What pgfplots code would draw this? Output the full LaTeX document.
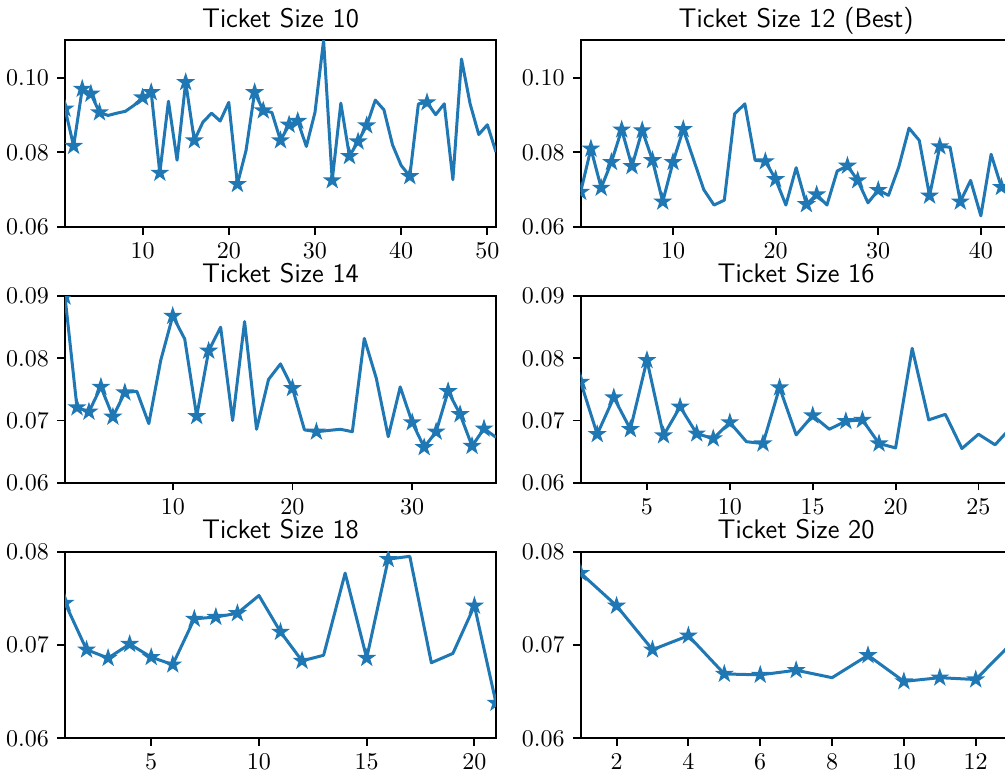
\documentclass[border=0pt]{standalone}
\usepackage{pgfplots}
\pgfplotsset{compat=1.18}
\usepackage{pgfplotstable}

\definecolor{tabblue}{HTML}{1F77B4}

% filled five-pointed star, like matplotlib's '*'
\pgfdeclareplotmark{fstar}{%
  \pgfpathmoveto{\pgfpointpolar{90}{\pgfplotmarksize}}%
  \pgfpathlineto{\pgfpointpolar{126}{0.382*\pgfplotmarksize}}%
  \pgfpathlineto{\pgfpointpolar{162}{\pgfplotmarksize}}%
  \pgfpathlineto{\pgfpointpolar{198}{0.382*\pgfplotmarksize}}%
  \pgfpathlineto{\pgfpointpolar{234}{\pgfplotmarksize}}%
  \pgfpathlineto{\pgfpointpolar{270}{0.382*\pgfplotmarksize}}%
  \pgfpathlineto{\pgfpointpolar{306}{\pgfplotmarksize}}%
  \pgfpathlineto{\pgfpointpolar{342}{0.382*\pgfplotmarksize}}%
  \pgfpathlineto{\pgfpointpolar{18}{\pgfplotmarksize}}%
  \pgfpathlineto{\pgfpointpolar{54}{0.382*\pgfplotmarksize}}%
  \pgfpathclose
  \pgfusepathqfillstroke
}

\pgfplotsset{
  panel/.style={
    scale only axis, width=179.6pt, height=77.8pt,
    anchor=south west,
    axis line style={line width=0.8pt},
    tick align=outside, xtick pos=bottom, ytick pos=left,
    major tick length=3.2pt,
    tick style={black, line width=0.8pt},
    scaled y ticks=false,
    yticklabel style={/pgf/number format/fixed,
      /pgf/number format/fixed zerofill,
      /pgf/number format/precision=2},
    every axis title/.style={font=\fontsize{11.2}{13}\selectfont\sffamily,
      at={(0.5,1)}, anchor=base, yshift=5.5pt},
    clip marker paths=true,
  },
  run/.style={color=tabblue, line width=1.25pt, line join=round,
    mark=fstar, mark size=3.2pt,
    mark options={solid, fill=tabblue, line width=0.6pt, line join=miter}},
}

% Ticket Size 10
\pgfplotstableread{
x y
1 0.0917
2 0.0817
3 0.0970
4 0.0957
5 0.0907
6 0.0899
7 0.0905
8 0.0910
9 0.0926
10 0.0947
11 0.0961
12 0.0745
13 0.0937
14 0.0779
15 0.0988
16 0.0832
17 0.0881
18 0.0905
19 0.0884
20 0.0934
21 0.0715
22 0.0805
23 0.0961
24 0.0912
25 0.0907
26 0.0832
27 0.0874
28 0.0884
29 0.0816
30 0.0907
31 0.1100
32 0.0725
33 0.0932
34 0.0790
35 0.0829
36 0.0872
37 0.0940
38 0.0914
39 0.0820
40 0.0765
41 0.0736
42 0.0930
43 0.0934
44 0.0901
45 0.0930
46 0.0727
47 0.1050
48 0.0930
49 0.0848
50 0.0874
51 0.0801
}\tsten

% Ticket Size 12
\pgfplotstableread{
x y
1 0.0694
2 0.0810
3 0.0705
4 0.0774
5 0.0861
6 0.0763
7 0.0859
8 0.0779
9 0.0668
10 0.0774
11 0.0862
12 0.0781
13 0.0700
14 0.0659
15 0.0672
16 0.0903
17 0.0930
18 0.0779
19 0.0776
20 0.0728
21 0.0659
22 0.0759
23 0.0661
24 0.0687
25 0.0659
26 0.0750
27 0.0764
28 0.0725
29 0.0665
30 0.0699
31 0.0685
32 0.0761
33 0.0865
34 0.0832
35 0.0684
36 0.0816
37 0.0814
38 0.0668
39 0.0725
40 0.0630
41 0.0795
42 0.0707
43 0.0700
}\tstwelve

% Ticket Size 14
\pgfplotstableread{
x y
1 0.0899
2 0.0721
3 0.0714
4 0.0754
5 0.0706
6 0.0745
7 0.0747
8 0.0695
9 0.0797
10 0.0868
11 0.0831
12 0.0707
13 0.0812
14 0.0850
15 0.0700
16 0.0859
17 0.0686
18 0.0766
19 0.0791
20 0.0752
21 0.0685
22 0.0682
23 0.0684
24 0.0686
25 0.0682
26 0.0832
27 0.0768
28 0.0674
29 0.0754
30 0.0697
31 0.0657
32 0.0682
33 0.0747
34 0.0710
35 0.0659
36 0.0687
37 0.0673
}\tsfourteen

% Ticket Size 16
\pgfplotstableread{
x y
1 0.0762
2 0.0678
3 0.0737
4 0.0686
5 0.0797
6 0.0676
7 0.0722
8 0.0679
9 0.0671
10 0.0697
11 0.0666
12 0.0663
13 0.0753
14 0.0677
15 0.0708
16 0.0686
17 0.0699
18 0.0701
19 0.0663
20 0.0656
21 0.0816
22 0.0701
23 0.0710
24 0.0655
25 0.0678
26 0.0661
27 0.0690
}\tssixteen

% Ticket Size 18
\pgfplotstableread{
x y
1 0.0745
2 0.0695
3 0.0686
4 0.0701
5 0.0687
6 0.0679
7 0.0728
8 0.0730
9 0.0734
10 0.0753
11 0.0714
12 0.0683
13 0.0689
14 0.0777
15 0.0686
16 0.0792
17 0.0795
18 0.0681
19 0.0691
20 0.0742
21 0.0638
}\tseighteen

% Ticket Size 20
\pgfplotstableread{
x y
1 0.0777
2 0.0742
3 0.0695
4 0.0710
5 0.0669
6 0.0668
7 0.0673
8 0.0665
9 0.0689
10 0.0661
11 0.0665
12 0.0663
13 0.0702
}\tstwenty

\begin{document}
\begin{tikzpicture}
\path[use as bounding box, clip] (0,0) rectangle (418.8pt,323.4pt);

\begin{axis}[panel, at={(27.09pt,228.77pt)}, title={Ticket Size 10},
  xmin=1, xmax=51, ymin=0.06, ymax=0.11,
  xtick={10,20,30,40,50}, ytick={0.06,0.08,0.10}]
\addplot[run, mark indices={1,2,3,4,5,10,11,12,15,16,21,23,24,26,27,28,32,34,35,36,41,43}] table {\tsten};
\end{axis}

\begin{axis}[panel, at={(241.97pt,228.77pt)}, title={Ticket Size 12 (Best)},
  xmin=1, xmax=43, ymin=0.06, ymax=0.11,
  xtick={10,20,30,40}, ytick={0.06,0.08,0.10}]
\addplot[run, mark indices={1,2,3,4,5,6,7,8,9,10,11,19,20,23,24,27,28,30,35,36,38,42}] table {\tstwelve};
\end{axis}

\begin{axis}[panel, at={(27.09pt,122.22pt)}, title={Ticket Size 14},
  xmin=1, xmax=37, ymin=0.06, ymax=0.09,
  xtick={10,20,30}, ytick={0.06,0.07,0.08,0.09}]
\addplot[run, mark indices={1,2,3,4,5,6,10,12,13,20,22,30,31,32,33,34,35,36}] table {\tsfourteen};
\end{axis}

\begin{axis}[panel, at={(241.97pt,122.22pt)}, title={Ticket Size 16},
  xmin=1, xmax=27, ymin=0.06, ymax=0.09,
  xtick={5,10,15,20,25}, ytick={0.06,0.07,0.08,0.09}]
\addplot[run, mark indices={1,2,3,4,5,6,7,8,9,10,12,13,15,17,18,19}] table {\tssixteen};
\end{axis}

\begin{axis}[panel, at={(27.09pt,15.71pt)}, title={Ticket Size 18},
  xmin=1, xmax=21, ymin=0.06, ymax=0.08,
  xtick={5,10,15,20}, ytick={0.06,0.07,0.08}]
\addplot[run, mark indices={1,2,3,4,5,6,7,8,9,11,12,15,16,20,21}] table {\tseighteen};
\end{axis}

\begin{axis}[panel, at={(241.97pt,15.71pt)}, title={Ticket Size 20},
  xmin=1, xmax=13, ymin=0.06, ymax=0.08,
  xtick={2,4,6,8,10,12}, ytick={0.06,0.07,0.08}]
\addplot[run, mark indices={1,2,3,4,5,6,7,9,10,11,12}] table {\tstwenty};
\end{axis}
\end{tikzpicture}
\end{document}
